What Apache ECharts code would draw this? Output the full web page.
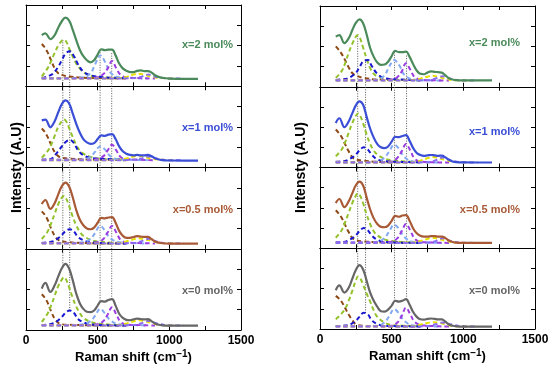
<!DOCTYPE html>
<html><head><meta charset="utf-8">
<script src="https://cdn.jsdelivr.net/npm/echarts@6/dist/echarts.min.js"></script>
<style>html,body{margin:0;padding:0;background:#fff}#c{width:550px;height:369px}</style>
</head><body><div id="c"></div>
<script>
// Raman shift grid for the measured (sum) curves
const WAVE = [110,135,170,200,225,250,275,300,325,350,375,400,425,450,475,500,525,550,575,600,625,650,675,700,725,750,775,800,825,850,875,900,925,950,1000,1100,1200];
const SAMPLES = ['x=2 mol%','x=1 mol%','x=0.5 mol%','x=0 mol%'];
const SAMPLE_COLORS = ['#4b8b5b','#3b4fd6','#a85a36','#666666'];
const X_TICKS = [0,500,1000,1500];

// Left panel totals
const L_TOT_X2 = [63,65,58,63,72,80,84.5,81,70,57,45,37,32,29.5,32,39,45.5,44.5,45,45,38,28,22,19,17.5,17.5,19,19.5,18.5,18.5,17,13.5,11.5,10.5,9.5,9,9];
const L_TOT_X1 = [58,59,49.5,57,68,78,82.5,79,67,54,43,35,31,29,30,35,39.5,39,40.5,41,35,26,20,17,15.5,15,15.5,15,15,15.5,14,11.5,10,9,8.6,8.5,8.5];
const L_TOT_X05 = [55,60,49,56,67,77,81.5,77,64,48,36,29,25,24,26,32,38,37.5,38.5,39,32,22,16,13.5,13.5,14.5,15.5,15,14.5,14.5,12,9,7.5,6.8,6.3,6.2,6.2];
const L_TOT_X0 = [51,58,47,55,66,76,81.5,76,62,45,33,26,22.5,22,24,30,35.5,35,37,38,30,20,15,12.5,12,13,14,13.5,13,13.5,11,8,6.5,5.8,5.4,5.3,5.3];
// Right panel totals
const R_TOT_X2 = [62,64,54,60,70,79,83.5,79,65,48,37,30,27,27.5,31,38,44.5,43,43,43.5,37,28,20,16,15.5,17.5,19,18.5,18,17.5,14,10.5,9,8.2,7.8,7.8,7.8];
const R_TOT_X1 = [55,61,50,57,67,77,82,78,63,48,37,29,25,24,26,32,38,37.5,39,40,33,24,18,15.5,14.5,15,15.5,15,14.5,14.8,12.5,9.5,7.5,6.7,6.3,6.2,6.2];
const R_TOT_X05 = [56,61,51,58,68,78,82.5,78,63,48,37,30,26.5,26,28,34,40,39,40.5,41,34,24.5,18.5,15.5,14.5,14.5,15,15,14.5,14.5,12.5,9.5,7.8,7,6.7,6.6,6.6];
const R_TOT_X0 = [48,54,45,51,62,73,79,74,60,45,35,27.5,22,21.5,24,29,35,34,35,37,30,21,15,12,11.5,12.5,13,12.5,12,12,9,5.5,4,3.3,3,3,3];

// Fitted component grids
const BR_X = [110,130,150,175,200,225,250,300,400,550,700];
const GR_X = [110,150,175,200,225,250,265,280,300,325,350,375,400,450,500,600,700];
const BL_X = [110,175,200,225,250,275,305,335,360,400,450,550,700];
const LB_X = [110,300,400,450,480,518,552,588,650,750,850];
const PU_X = [110,400,500,540,570,600,630,660,700,800,900];
const YE_X = [110,500,650,700,750,785,820,870,950,1050];
const VI_X = [110,600,750,800,830,855,880,920,1000,1100];

// Left panel components, rows: x=2, x=1, x=0.5, x=0
const L_BR = [[52,48,42,32,22,16,14,12,10.5,10,9.5],[48,44,38,28,19,14,12,11,10,9.5,9],[46,42,36,25,16,11,9,8,7,6.5,6.5],[44,40,34,23,14,9,7,6.5,6,5.5,5.5]];
const L_GR = [[12,22,31,41,50,56,57,55,47,37,28,22,17.5,13,11.5,10.5,10],[12,20,28,39,50,57,59,57,49,38,28,21,17,13,11,10,9.5],[12,21,31,43,55,63,65,62,53,40,29,21,16,11,9,7.5,7],[10,20,30,42,54,62,65,62,53,40,29,21,15,10,8,6.5,6]];
const L_BL = [[10,14,18,24,32,40,43,37,28,18,13.5,11,10],[9.5,10.5,15,20,26,31,34,30,22,15,12,10.5,9.5],[7,8.5,10,13,17,21.5,24,21,15,10.5,8,7,6.5],[6,7.5,9,12,16,21,24,21,14,9.5,7,6,5.5]];
const L_LB = [[10,10,11,16,26,38,30,17,11,10,9.5],[9.5,9.5,10,13,19,26,22,14,10,9.5,9],[7,7,8,12,19,28,22,13,8,7,6.5],[6,6,7,11,17,26,20,12,7,6,5.5]];
const L_PU = [[10,10,11,15,22,31,22,14,11,10,9.5],[9.5,9.5,10.5,14,21,28,21,13,10.5,9.5,9],[7,7,8,12,20,28,20,11,8,7,6.5],[6,6,7,11,19,28,19,10,7,6,5.5]];
const L_YE = [[9.5,9.5,10,11.5,14.5,15.5,14.5,12,10,9.5],[9,9,9.5,11,13.5,14.5,13.5,11,9.5,9],[6.5,6.5,7,9,11.5,13,12,10,7,6.5],[5.5,5.5,6,8,10.5,12.3,11,9,6,5.5]];
const L_VI = [[9.5,9.5,10,11.5,13.5,14.5,13,11,9.5,9.5],[9,9,9.5,11,12.5,13.6,12.5,10.5,9,9],[6.5,6.5,7,9,11,12.3,11,8.5,6.5,6.5],[5.5,5.5,6,8,10,11.5,10,8,5.5,5.5]];
// Right panel components
const R_BR = [[50,46,41,33,24,17,14,11,9,8.5,8],[47,43,38,29,20,13,10,8.5,7,6.5,6.5],[47,43,38,29,20,13,10,8.5,7.5,7,6.6],[41,38,34,26,18,11,6,4,3.5,3,3]];
const R_GR = [[11,19,29,42,53,62,64,60,49,35,23,16,13,10,9,8.5,8],[14,22,31,43,55,64,67,64,55,41,29,21,16,11,9,7.5,7],[13,22,32,44,56,65,68,65,56,42,30,21,16,11,9,7.5,7],[12,19,25,35,47,60,65,63,55,44,34,23,15,8,5,4,3.5]];
const R_BL = [[8.5,9.5,11,13.5,17,24,32,33,26,16,10.5,9,8],[7,8,10,12.5,16,21,25,22,16,10,8,7,6.5],[7,8,10,12.5,16,21,25,22,16,10.5,8,7,6.6],[3.5,4.2,5,7,10,15,20,18,11,6,4,3.5,3]];
const R_LB = [[8,8,9,14,24,33,27,15,9,8,7.8],[6.5,6.5,7.5,12,19,28,23,13,7.5,6.5,6.2],[7,7,8,12.5,20,29,24,14,8,7,6.6],[3.5,3.5,4,8,15,24.5,19,10,4.5,3.5,3]];
const R_PU = [[8,8,9,12,19,29,21,12,9,8,7.8],[6.5,6.5,7.5,12,20,29,21,11,7.5,6.5,6.2],[7,7,8,12.5,21,30,22,12,8,7,6.6],[3.5,3.5,4,8,16,26.5,18,9,5,3.5,3]];
const R_YE = [[7.8,7.8,8,10,12.5,13.6,12.5,10,8,7.8],[6.2,6.2,6.5,8.5,11.5,13,12,9.5,6.8,6.2],[6.6,6.6,7,9,11.5,13,12,9.5,7,6.6],[3,3,3.5,5.5,7.5,8.5,8,6,3.5,3]];
const R_VI = [[7.8,7.8,8,10,12,13,12,9.5,7.8,7.8],[6.2,6.2,6.5,8.5,11,12.5,11,8.5,6.5,6.2],[6.6,6.6,7,8.5,11,12.5,11,8.5,6.8,6.6],[3,3,3.5,5.5,7,8,7,5.5,3.2,3]];

// Dotted guide lines: position, top end (in x=2 frame), bottom end (in x=0 frame)
const L_DOT_X = [257,305,517,598];
const L_DOT_TOP = [57,43,42,42];
const L_DOT_BOT = [79,24,36,38];
const R_DOT_X = [263,318,520,604];
const R_DOT_TOP = [64,34,45,40];
const R_DOT_BOT = [77,20,35,37];

const COMP_X = [BR_X, GR_X, BL_X, LB_X, PU_X, YE_X, VI_X];
const COMP_COLORS = ['#8e4a16','#94c22c','#1818d0','#82a9f2','#9b3de2','#e6e000','#8a6cf2'];

const FONT = '"Liberation Sans", Arial, sans-serif';
const panels = [
  {left:26, width:215, top:5, h:81.25, tot:[L_TOT_X2,L_TOT_X1,L_TOT_X05,L_TOT_X0],
   comps:[L_BR,L_GR,L_BL,L_LB,L_PU,L_YE,L_VI], dx:L_DOT_X, dt:L_DOT_TOP, db:L_DOT_BOT,
   labelX:233, labelY:[45,128,210,291], nameGap:2},
  {left:320, width:215, top:6, h:80.75, tot:[R_TOT_X2,R_TOT_X1,R_TOT_X05,R_TOT_X0],
   comps:[R_BR,R_GR,R_BL,R_LB,R_PU,R_YE,R_VI], dx:R_DOT_X, dt:R_DOT_TOP, db:R_DOT_BOT,
   labelX:520, labelY:[43,132,210,291], nameGap:12}
];

const grids=[], xAxes=[], yAxes=[], series=[], graphics=[];
const axLine = {show:true, onZero:false, lineStyle:{color:'#000', width:1}};
const axTick = {show:true, inside:true, length:4, lineStyle:{color:'#000', width:1}};

panels.forEach((p) => {
  for (let i=0;i<4;i++){
    const gi = grids.length;
    grids.push({left:p.left, top:p.top+i*p.h, width:p.width, height:p.h, outerBoundsMode:'none'});
    const xb = xAxes.length;
    xAxes.push({gridIndex:gi, type:'value', min:0, max:1500, interval:250, position:'bottom',
      axisLine:axLine, axisTick:axTick, splitLine:{show:false},
      axisLabel:{show:i===3, margin:5, color:'#000', fontFamily:FONT, fontWeight:'bold', fontSize:12,
        showMinLabel:true, showMaxLabel:true,
        formatter:v=> X_TICKS.indexOf(v)>=0 ? String(v) : ''},
      name: i===3 ? '{a|Raman shift (cm}{b|−1}{a|)}' : '', nameLocation:'middle', nameGap:19,
      nameTextStyle:{rich:{a:{fontFamily:FONT, fontWeight:'bold', fontSize:13, color:'#000'},
                           b:{fontFamily:FONT, fontWeight:'bold', fontSize:10, color:'#000', verticalAlign:'top', padding:[0,0,6,0]}}}
    });
    xAxes.push({gridIndex:gi, type:'value', min:0, max:1500, interval:250, position:'top',
      axisLine:axLine, axisTick:axTick, splitLine:{show:false}, axisLabel:{show:false}});
    const yl = yAxes.length;
    yAxes.push({gridIndex:gi, type:'value', min:0, max:100, interval:25, position:'left',
      axisLine:axLine, axisTick:axTick, splitLine:{show:false}, axisLabel:{show:false}});
    yAxes.push({gridIndex:gi, type:'value', min:0, max:100, interval:25, position:'right',
      axisLine:axLine, axisTick:axTick, splitLine:{show:false}, axisLabel:{show:false}});
    for (let c=0;c<7;c++){
      series.push({type:'line', xAxisIndex:xb, yAxisIndex:yl, smooth:0.4, showSymbol:false, silent:true, z:2,
        data: COMP_X[c].map((x,k)=>[x, p.comps[c][i][k]]),
        lineStyle:{type:[4.5,3], width:2, color:COMP_COLORS[c]}});
    }
    series.push({type:'line', xAxisIndex:xb, yAxisIndex:yl, smooth:0.4, showSymbol:false, silent:true, z:4,
      data: WAVE.map((w,k)=>[w, p.tot[i][k]]),
      lineStyle:{width:2.2, color:SAMPLE_COLORS[i]}});
    graphics.push({type:'text', x:p.labelX, y:p.labelY[i], z:10,
      style:{text:SAMPLES[i], fill:SAMPLE_COLORS[i], font:'bold 11px '+FONT, align:'right', verticalAlign:'middle'}});
  }
  // overlay grid spanning the whole panel (4 stacked frames of 100 units)
  const gi = grids.length;
  grids.push({left:p.left, top:p.top, width:p.width, height:p.h*4, outerBoundsMode:'none'});
  const xo = xAxes.length, yo = yAxes.length;
  xAxes.push({gridIndex:gi, type:'value', min:0, max:1500, show:false});
  yAxes.push({gridIndex:gi, type:'value', min:0, max:400, position:'left',
    axisLine:{show:false}, axisTick:{show:false}, axisLabel:{show:false}, splitLine:{show:false},
    name:'Intensty (A.U)', nameLocation:'middle', nameGap:p.nameGap,
    nameTextStyle:{fontFamily:FONT, fontWeight:'bold', fontSize:14, color:'#000'}});
  p.dx.forEach((x,k)=>{
    series.push({type:'line', xAxisIndex:xo, yAxisIndex:yo, showSymbol:false, silent:true, z:1,
      data:[[x, p.db[k]], [x, 300+p.dt[k]]],
      lineStyle:{type:[1,1.5], width:1, color:'#555'}});
  });
});

const chart = echarts.init(document.getElementById('c'), null, {renderer:'canvas'});
chart.setOption({animation:false, backgroundColor:'#fff', grid:grids, xAxis:xAxes, yAxis:yAxes, series:series, graphic:graphics});
</script></body></html>
